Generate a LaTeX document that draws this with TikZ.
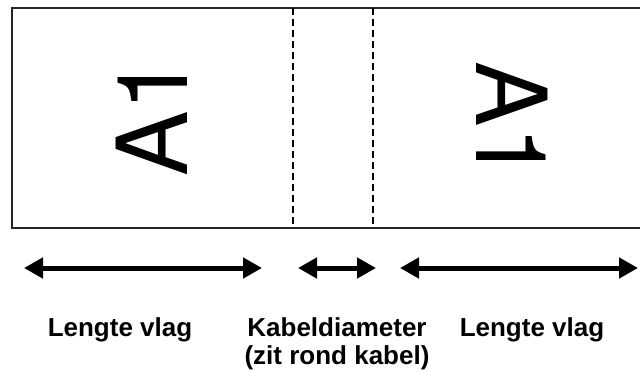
\documentclass[tikz,border=0pt]{standalone}
\usepackage{fontspec}
\setmainfont{Liberation Sans}
\newfontfamily\heros{TeX Gyre Heros}
\usetikzlibrary{arrows.meta}
\begin{document}
\begin{tikzpicture}[x=1pt,y=-1pt,
  border/.style={line width=2pt,draw=black!85},
  cutline/.style={line width=1.6pt,dash pattern=on 7pt off 4pt},
  dimarrow/.style={line width=5pt,{Triangle[length=19pt,width=20pt]}-{Triangle[length=19pt,width=20pt]}},
  biglabel/.style={font=\heros\fontsize{98}{98}\selectfont,inner sep=0pt,anchor=base},
  caption/.style={font=\bfseries\fontsize{26}{28}\selectfont,align=center,inner sep=0pt,anchor=base}]
\useasboundingbox (0,0) rectangle (640,373);
% flag outline
\coordinate (tr) at (641,8);
\coordinate (tl) at (12,8);
\coordinate (bl) at (12,228);
\coordinate (br) at (641,228);
\draw[border] (tr) -- (tl) -- (bl) -- (br);
% fold lines
\coordinate (d1t) at (293,8);
\coordinate (d1b) at (293,228);
\coordinate (d2t) at (373,8);
\coordinate (d2b) at (373,228);
\draw[cutline] (d1t) -- (d1b);
\draw[cutline] (d2t) -- (d2b);
% labels on flag
\node[biglabel,rotate=90] (a1l) at (187,117) {A1};
\node[biglabel,rotate=-90] (a1r) at (476,121) {A1};
% dimension arrows
\coordinate (l1) at (24,268);
\coordinate (l2) at (262,268);
\coordinate (m1) at (298,268);
\coordinate (m2) at (376,268);
\coordinate (r1) at (400,268);
\coordinate (r2) at (638,268);
\draw[dimarrow] (l1) -- (l2);
\draw[dimarrow] (m1) -- (m2);
\draw[dimarrow] (r1) -- (r2);
% captions
\node[caption] (capl) at (120,336) {Lengte vlag};
\node[caption] (capm) at (337,364) {Kabeldiameter\\(zit rond kabel)};
\node[caption] (capr) at (532,336) {Lengte vlag};
\end{tikzpicture}
\end{document}
